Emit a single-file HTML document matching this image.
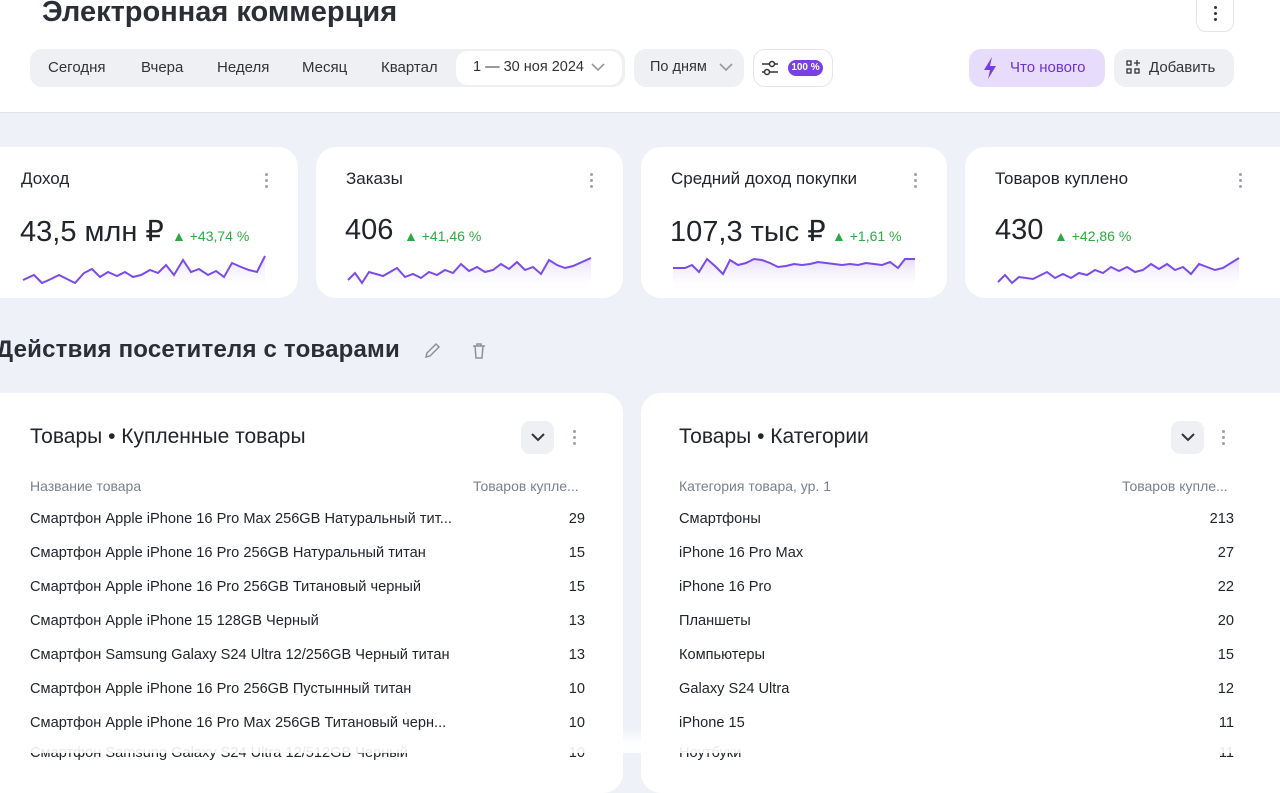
<!DOCTYPE html>
<html><head><meta charset="utf-8"><style>
*{box-sizing:border-box;margin:0;padding:0}
body{width:1280px;height:753px;overflow:hidden;background:#eef1f8;font-family:"Liberation Sans",sans-serif;color:#21252b;position:relative}
.hdr{position:absolute;left:0;top:0;width:1280px;height:113px;background:#fff;border-bottom:1px solid #dde2ea}
.abs{position:absolute}
.t{position:absolute;white-space:nowrap}
.card{position:absolute;background:#fff;border-radius:20px}
.pill{position:absolute;border-radius:12px;font-size:15px;display:flex;align-items:center}
.dots{position:absolute;width:4px}
.dots i{display:block;width:3px;height:3px;border-radius:50%;background:#9aa2ae;margin-bottom:3px}
.row{position:absolute;font-size:14.6px;white-space:nowrap}
</style></head><body>
<div class="hdr"></div>
<div class="t" style="left:42px;top:-4px;font-size:29px;font-weight:bold;color:#2a2e36">Электронная коммерция</div>
<div class="abs" style="left:1196px;top:-10px;width:38px;height:42px;border:1px solid #e3e6ec;border-radius:10px;background:#fff"></div>
<div class="dots" style="left:1214px;top:6px"><i style="background:#333"></i><i style="background:#333"></i><i style="background:#333"></i></div>
<div class="pill" style="left:30px;top:49px;width:595px;height:38px;background:#eef0f4"></div>
<div class="t" style="left:48px;top:59px;font-size:15px;color:#333">Сегодня</div>
<div class="t" style="left:141px;top:59px;font-size:15px;color:#333">Вчера</div>
<div class="t" style="left:217px;top:59px;font-size:15px;color:#333">Неделя</div>
<div class="t" style="left:302px;top:59px;font-size:15px;color:#333">Месяц</div>
<div class="t" style="left:381px;top:59px;font-size:15px;color:#333">Квартал</div>
<div class="pill" style="left:456px;top:51px;width:166px;height:34px;background:#fff"></div>
<div class="t" style="left:473px;top:59px;font-size:14.5px;color:#333">1 — 30 ноя 2024</div>
<svg class="abs" style="left:590px;top:62px" width="16" height="10"><path d="M2 2l6 6 6-6" stroke="#999" stroke-width="1.6" fill="none"/></svg>
<div class="pill" style="left:634px;top:49px;width:110px;height:38px;background:#eef0f4"></div>
<div class="t" style="left:650px;top:59px;font-size:14.5px;color:#333">По дням</div>
<svg class="abs" style="left:718px;top:62px" width="16" height="10"><path d="M2 2l6 6 6-6" stroke="#999" stroke-width="1.6" fill="none"/></svg>
<div class="pill" style="left:753px;top:49px;width:80px;height:38px;border:1px solid #e3e6ec;background:#fff"></div>
<svg class="abs" style="left:760px;top:58px" width="20" height="20"><path d="M2 6h16M2 14h16" stroke="#333" stroke-width="1.6"/><circle cx="12" cy="6" r="2.5" fill="#fff" stroke="#333" stroke-width="1.5"/><circle cx="7" cy="14" r="2.5" fill="#fff" stroke="#333" stroke-width="1.5"/></svg>
<div class="abs" style="left:788px;top:60px;width:35px;height:16px;border-radius:8px;background:#7a3fe0;color:#fff;font-size:10px;font-weight:bold;text-align:center;line-height:16px">100 %</div>
<div class="pill" style="left:969px;top:49px;width:136px;height:38px;background:#e8dcfd"></div>
<svg class="abs" style="left:981px;top:56px" width="18" height="24"><path d="M11 1L3 14h6l-2 9 8-13h-6z" fill="#7a3fe0"/></svg>
<div class="t" style="left:1010px;top:59px;font-size:15px;color:#6a33cc">Что нового</div>
<div class="pill" style="left:1114px;top:49px;width:120px;height:38px;background:#eef0f4"></div>
<svg class="abs" style="left:1125px;top:59px" width="16" height="16"><rect x="2" y="2" width="4" height="4" fill="none" stroke="#333" stroke-width="1.3"/><rect x="2" y="10" width="4" height="4" fill="none" stroke="#333" stroke-width="1.3"/><rect x="10" y="10" width="4" height="4" fill="none" stroke="#333" stroke-width="1.3"/><path d="M12 1v6M9 4h6" stroke="#333" stroke-width="1.3"/></svg>
<div class="t" style="left:1149px;top:59px;font-size:15px;color:#333">Добавить</div>

<svg width="0" height="0" style="position:absolute"><defs><linearGradient id="g" x1="0" y1="0" x2="0" y2="1"><stop offset="0" stop-color="#b79cf3" stop-opacity=".35"/><stop offset="1" stop-color="#fff" stop-opacity="0"/></linearGradient></defs></svg>

<div class="card" style="left:-20px;top:147px;width:318px;height:151px"></div>
<div class="card" style="left:316px;top:147px;width:307px;height:151px"></div>
<div class="card" style="left:641px;top:147px;width:306px;height:151px"></div>
<div class="card" style="left:965px;top:147px;width:335px;height:151px"></div>

<div class="t" style="left:21px;top:169px;font-size:17px">Доход</div>
<div class="t" style="left:346px;top:169px;font-size:17px">Заказы</div>
<div class="t" style="left:671px;top:169px;font-size:17px">Средний доход покупки</div>
<div class="t" style="left:995px;top:169px;font-size:17px">Товаров куплено</div>
<div class="dots" style="left:265px;top:173px"><i></i><i></i><i></i></div>
<div class="dots" style="left:590px;top:173px"><i></i><i></i><i></i></div>
<div class="dots" style="left:914px;top:173px"><i></i><i></i><i></i></div>
<div class="dots" style="left:1239px;top:173px"><i></i><i></i><i></i></div>

<div class="t" style="left:20px;top:214px;font-size:29px">43,5 млн ₽</div>
<div class="t" style="left:172px;top:228px;font-size:14px;color:#2ea842">▲ +43,74 %</div>
<div class="t" style="left:345px;top:214px;font-size:29px">406</div>
<div class="t" style="left:404px;top:228px;font-size:14px;color:#2ea842">▲ +41,46 %</div>
<div class="t" style="left:670px;top:214px;font-size:29px">107,3 тыс ₽</div>
<div class="t" style="left:832px;top:228px;font-size:14px;color:#2ea842">▲ +1,61 %</div>
<div class="t" style="left:995px;top:214px;font-size:29px">430</div>
<div class="t" style="left:1054px;top:228px;font-size:14px;color:#2ea842">▲ +42,86 %</div>

<svg class="abs" style="left:20px;top:250px" width="250" height="42"><polygon points="3,30 14,25 22,33 31,29 39,25 47,29 55,33 64,23 72,19 80,27 88,22 97,26 105,22 113,27 121,25 130,20 138,23 146,15 154,25 163,10 171,22 179,19 188,25 196,21 204,27 212,13 221,17 229,20 237,22 245,6 245,42 3,42" fill="url(#g)"/><polyline points="3,30 14,25 22,33 31,29 39,25 47,29 55,33 64,23 72,19 80,27 88,22 97,26 105,22 113,27 121,25 130,20 138,23 146,15 154,25 163,10 171,22 179,19 188,25 196,21 204,27 212,13 221,17 229,20 237,22 245,6" fill="none" stroke="#7b4be8" stroke-width="2"/></svg>
<svg class="abs" style="left:345px;top:250px" width="250" height="42"><polygon points="3,30 10,23 17,33 24,22 38,26 52,18 60,27 68,24 76,28 84,22 92,25 100,20 108,23 116,14 124,21 132,17 140,22 148,20 156,14 164,19 172,12 180,20 188,17 196,24 204,10 212,15 220,18 228,16 246,8 246,42 3,42" fill="url(#g)"/><polyline points="3,30 10,23 17,33 24,22 38,26 52,18 60,27 68,24 76,28 84,22 92,25 100,20 108,23 116,14 124,21 132,17 140,22 148,20 156,14 164,19 172,12 180,20 188,17 196,24 204,10 212,15 220,18 228,16 246,8" fill="none" stroke="#7b4be8" stroke-width="2"/></svg>
<svg class="abs" style="left:670px;top:250px" width="250" height="42"><polygon points="3,18 15,18 22,15 29,22 37,9 45,16 53,24 60,10 68,15 76,13 84,9 92,10 100,13 108,17 116,16 124,14 132,15 140,14 148,12 156,13 164,14 172,15 180,14 188,15 196,13 204,14 212,15 220,12 228,18 235,9 245,9 245,42 3,42" fill="url(#g)"/><polyline points="3,18 15,18 22,15 29,22 37,9 45,16 53,24 60,10 68,15 76,13 84,9 92,10 100,13 108,17 116,16 124,14 132,15 140,14 148,12 156,13 164,14 172,15 180,14 188,15 196,13 204,14 212,15 220,12 228,18 235,9 245,9" fill="none" stroke="#7b4be8" stroke-width="2"/></svg>
<svg class="abs" style="left:995px;top:250px" width="250" height="42"><polygon points="3,32 10,25 17,33 24,27 38,29 52,22 60,28 68,24 76,28 84,23 92,25 100,20 108,23 116,17 124,21 132,17 140,22 148,20 156,14 164,19 172,14 180,20 188,17 196,24 204,14 212,17 220,20 228,18 244,8 244,42 3,42" fill="url(#g)"/><polyline points="3,32 10,25 17,33 24,27 38,29 52,22 60,28 68,24 76,28 84,23 92,25 100,20 108,23 116,17 124,21 132,17 140,22 148,20 156,14 164,19 172,14 180,20 188,17 196,24 204,14 212,17 220,20 228,18 244,8" fill="none" stroke="#7b4be8" stroke-width="2"/></svg>

<div class="t" style="left:-4px;top:336px;font-size:24px;font-weight:bold;color:#2a2e36;letter-spacing:0.2px">Действия посетителя с товарами</div>
<svg class="abs" style="left:423px;top:342px" width="18" height="18"><path d="M3 15l1-4 9-9 3 3-9 9z" fill="none" stroke="#8a929e" stroke-width="1.5"/></svg>
<svg class="abs" style="left:470px;top:342px" width="18" height="18"><path d="M3 4h12M7 4V2h4v2M5 4l1 12h6l1-12" fill="none" stroke="#8a929e" stroke-width="1.5"/></svg>

<div class="card" style="left:-20px;top:393px;width:643px;height:400px"></div>
<div class="card" style="left:641px;top:393px;width:660px;height:400px"></div>
<div class="t" style="left:30px;top:425px;font-size:21px">Товары • Купленные товары</div>
<div class="t" style="left:679px;top:425px;font-size:21px">Товары • Категории</div>
<div class="abs" style="left:521px;top:421px;width:33px;height:33px;border-radius:9px;background:#eef0f4"></div>
<svg class="abs" style="left:529px;top:432px" width="18" height="12"><path d="M3 2l6 6 6-6" stroke="#333" stroke-width="2" fill="none"/></svg>
<div class="abs" style="left:1171px;top:421px;width:33px;height:33px;border-radius:9px;background:#eef0f4"></div>
<svg class="abs" style="left:1179px;top:432px" width="18" height="12"><path d="M3 2l6 6 6-6" stroke="#333" stroke-width="2" fill="none"/></svg>
<div class="dots" style="left:573px;top:430px"><i></i><i></i><i></i></div>
<div class="dots" style="left:1222px;top:430px"><i></i><i></i><i></i></div>

<div class="row" style="left:30px;top:478px;color:#7a818c;font-size:14px">Название товара</div>
<div class="row" style="left:473px;top:478px;color:#7a818c;font-size:14px">Товаров купле...</div>
<div class="row" style="left:679px;top:478px;color:#7a818c;font-size:14px">Категория товара, ур. 1</div>
<div class="row" style="left:1122px;top:478px;color:#7a818c;font-size:14px">Товаров купле...</div>

<div class="row" style="left:30px;top:511px">Смартфон Apple iPhone 16 Pro Max 256GB Натуральный тит...</div><div class="row" style="left:545px;width:40px;text-align:right;top:511px">29</div>
<div class="row" style="left:30px;top:545px">Смартфон Apple iPhone 16 Pro 256GB Натуральный титан</div><div class="row" style="left:545px;width:40px;text-align:right;top:545px">15</div>
<div class="row" style="left:30px;top:579px">Смартфон Apple iPhone 16 Pro 256GB Титановый черный</div><div class="row" style="left:545px;width:40px;text-align:right;top:579px">15</div>
<div class="row" style="left:30px;top:613px">Смартфон Apple iPhone 15 128GB Черный</div><div class="row" style="left:545px;width:40px;text-align:right;top:613px">13</div>
<div class="row" style="left:30px;top:647px">Смартфон Samsung Galaxy S24 Ultra 12/256GB Черный титан</div><div class="row" style="left:545px;width:40px;text-align:right;top:647px">13</div>
<div class="row" style="left:30px;top:681px">Смартфон Apple iPhone 16 Pro 256GB Пустынный титан</div><div class="row" style="left:545px;width:40px;text-align:right;top:681px">10</div>
<div class="row" style="left:30px;top:715px">Смартфон Apple iPhone 16 Pro Max 256GB Титановый черн...</div><div class="row" style="left:545px;width:40px;text-align:right;top:715px">10</div>
<div class="row" style="left:30px;top:745px">Смартфон Samsung Galaxy S24 Ultra 12/512GB Черный</div><div class="row" style="left:545px;width:40px;text-align:right;top:745px">10</div>

<div class="row" style="left:679px;top:511px">Смартфоны</div><div class="row" style="left:1194px;width:40px;text-align:right;top:511px">213</div>
<div class="row" style="left:679px;top:545px">iPhone 16 Pro Max</div><div class="row" style="left:1194px;width:40px;text-align:right;top:545px">27</div>
<div class="row" style="left:679px;top:579px">iPhone 16 Pro</div><div class="row" style="left:1194px;width:40px;text-align:right;top:579px">22</div>
<div class="row" style="left:679px;top:613px">Планшеты</div><div class="row" style="left:1194px;width:40px;text-align:right;top:613px">20</div>
<div class="row" style="left:679px;top:647px">Компьютеры</div><div class="row" style="left:1194px;width:40px;text-align:right;top:647px">15</div>
<div class="row" style="left:679px;top:681px">Galaxy S24 Ultra</div><div class="row" style="left:1194px;width:40px;text-align:right;top:681px">12</div>
<div class="row" style="left:679px;top:715px">iPhone 15</div><div class="row" style="left:1194px;width:40px;text-align:right;top:715px">11</div>
<div class="row" style="left:679px;top:745px">Ноутбуки</div><div class="row" style="left:1194px;width:40px;text-align:right;top:745px">11</div>
<div class="abs" style="left:0;top:728px;width:1280px;height:25px;background:linear-gradient(rgba(255,255,255,0),rgba(255,255,255,.9) 60%)"></div>
</body></html>
